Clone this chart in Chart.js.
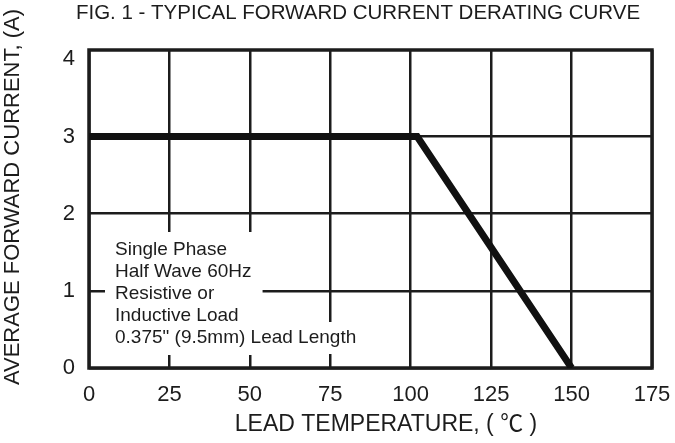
<!DOCTYPE html>
<html>
<head>
<meta charset="utf-8">
<script src="https://cdn.jsdelivr.net/npm/chart.js@4.4.1/dist/chart.umd.min.js"></script>
<style>
    html, body { margin: 0; padding: 0; background: #fff; }
</style>
</head>
<body>
<canvas id="deratingChart" width="675" height="443"></canvas>
<script>
// Dados da curva
const temperaturas = [0, 102, 150];
const correntes = [3, 3, 0];
const xTicks = [0, 25, 50, 75, 100, 125, 150, 175];
const yTicks = [0, 1, 2, 3, 4];

const tituloGrafico = 'FIG. 1 - TYPICAL FORWARD CURRENT DERATING CURVE';
const tituloX = 'LEAD TEMPERATURE, ( \u2103 )';
const tituloY = 'AVERAGE FORWARD CURRENT, (A)';
const notas = ['Single Phase', 'Half Wave 60Hz', 'Resistive or', 'Inductive Load', '0.375" (9.5mm) Lead Length'];

const FONTE = "Arial, 'Liberation Sans', 'Noto Sans CJK JP', Helvetica, sans-serif";
const TINTA = '#1c1c1c';

// Textos extras, moldura e caixa de notas
const extrasPlugin = {
    id: 'extras',
    beforeDatasetsDraw(chart) {
        const { ctx, chartArea: a } = chart;
        ctx.save();
        // moldura do gráfico
        ctx.strokeStyle = TINTA;
        ctx.lineWidth = 3.5;
        ctx.strokeRect(a.left, a.top, a.right - a.left, a.bottom - a.top);

        // caixa branca por trás das notas
        ctx.font = '19px ' + FONTE;
        const x0 = a.left + 26;
        const y0 = 250;
        const passo = 22;
        const larg = Math.max(...notas.slice(0, 4).map(t => ctx.measureText(t).width));
        const largUlt = ctx.measureText(notas[4]).width;
        ctx.fillStyle = '#fff';
        ctx.fillRect(a.left + 16, 232, larg + 21, 123);
        ctx.fillRect(a.left + 16, 322, largUlt + 20, 32);

        ctx.fillStyle = TINTA;
        ctx.textAlign = 'left';
        ctx.textBaseline = 'middle';
        notas.forEach((t, i) => ctx.fillText(t, x0, y0 + i * passo));
        ctx.restore();
    },
    afterDraw(chart) {
        const { ctx } = chart;
        ctx.save();
        ctx.fillStyle = TINTA;
        ctx.textAlign = 'center';

        // título da figura
        ctx.font = '20.5px ' + FONTE;
        ctx.textBaseline = 'alphabetic';
        ctx.fillText(tituloGrafico, 358, 19);

        // título do eixo X
        ctx.font = '23px ' + FONTE;
        ctx.textBaseline = 'middle';
        ctx.fillText(tituloX, 386, 425);

        // título do eixo Y
        ctx.translate(13, 197);
        ctx.rotate(-Math.PI / 2);
        ctx.font = '22px ' + FONTE;
        ctx.fillText(tituloY, 0, 0);
        ctx.restore();
    }
};

new Chart(document.getElementById('deratingChart'), {
    type: 'line',
    data: {
        datasets: [{
            data: temperaturas.map((t, i) => ({ x: t, y: correntes[i] })),
            borderColor: '#111',
            borderWidth: 7,
            pointRadius: 0,
            tension: 0,
            fill: false
        }]
    },
    options: {
        responsive: false,
        devicePixelRatio: 1,
        animation: false,
        layout: { padding: { top: 50, right: 23, left: 0, bottom: 0 } },
        plugins: {
            legend: { display: false },
            tooltip: { enabled: false }
        },
        scales: {
            x: {
                type: 'linear',
                min: 0,
                max: 175,
                afterBuildTicks: scale => { scale.ticks = xTicks.map(v => ({ value: v })); },
                afterFit: scale => {
                    scale.height = 75;
                    scale.paddingLeft = 0;
                    scale.paddingRight = 0;
                },
                grid: { color: TINTA, lineWidth: 2.5, drawTicks: false },
                border: { display: false },
                ticks: {
                    padding: 14,
                    color: TINTA,
                    font: { family: FONTE, size: 22 }
                }
            },
            y: {
                type: 'linear',
                min: 0,
                max: 4.12,
                afterBuildTicks: scale => { scale.ticks = yTicks.map(v => ({ value: v })); },
                afterFit: scale => {
                    scale.width = 89;
                    scale.paddingTop = 0;
                    scale.paddingBottom = 0;
                },
                grid: {
                    color: ctx => (ctx.tick && ctx.tick.value === 4) ? 'rgba(0,0,0,0)' : TINTA,
                    lineWidth: 2.5,
                    drawTicks: false
                },
                border: { display: false },
                ticks: {
                    padding: 14,
                    color: TINTA,
                    font: { family: FONTE, size: 22 }
                }
            }
        }
    },
    plugins: [extrasPlugin]
});
</script>
</body>
</html>
